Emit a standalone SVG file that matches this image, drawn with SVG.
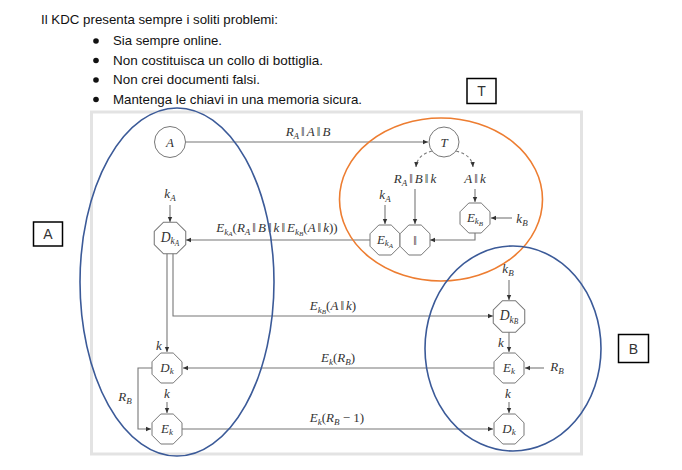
<svg xmlns="http://www.w3.org/2000/svg" width="682" height="470" viewBox="0 0 682 470">
<style>
.hd{font-family:"Liberation Sans",Arial,sans-serif;font-size:13px;fill:#111}
.m{font-family:"Liberation Serif","Times New Roman",serif;font-style:italic;font-size:13px;fill:#333}
.u{font-style:normal}
.p{font-style:normal}
.nd{fill:#fff;stroke:#777;stroke-width:1}
.cn{fill:none;stroke:#777;stroke-width:1.1}
.ds{stroke-dasharray:3 2.5}
.box{fill:#fff;stroke:#000;stroke-width:1.5}
.bl{font-family:"Liberation Sans",Arial,sans-serif;font-size:14px;fill:#333;text-anchor:middle}
.el{fill:none;stroke-width:1.6}
</style>
<defs>
<marker id="ar" markerWidth="6" markerHeight="6" refX="5" refY="3" orient="auto" markerUnits="userSpaceOnUse">
<path d="M0,0.8 L5,3 L0,5.2 Z" fill="#333"/>
</marker>
<polygon id="oct" points="-6.2,-15 6.2,-15 15,-6.2 15,6.2 6.2,15 -6.2,15 -15,6.2 -15,-6.2"/>
</defs>
<rect width="682" height="470" fill="#fff"/>

<g id="header">
<text class="hd" x="41" y="24" textLength="237" lengthAdjust="spacingAndGlyphs">Il KDC presenta sempre i soliti problemi:</text>
<circle cx="96" cy="41" r="2.8" fill="#111"/>
<text class="hd" x="113" y="45" textLength="109" lengthAdjust="spacingAndGlyphs">Sia sempre online.</text>
<circle cx="96" cy="60.5" r="2.8" fill="#111"/>
<text class="hd" x="113" y="64.5" textLength="210" lengthAdjust="spacingAndGlyphs">Non costituisca un collo di bottiglia.</text>
<circle cx="96" cy="80" r="2.8" fill="#111"/>
<text class="hd" x="113" y="84" textLength="147" lengthAdjust="spacingAndGlyphs">Non crei documenti falsi.</text>
<circle cx="96" cy="99.5" r="2.8" fill="#111"/>
<text class="hd" x="113" y="103.5" textLength="249" lengthAdjust="spacingAndGlyphs">Mantenga le chiavi in una memoria sicura.</text>
</g>

<rect x="91.5" y="112" width="490" height="342" fill="#fff" stroke="#e3e3e3" stroke-width="3"/>

<g id="boxT"><rect class="box" x="467" y="78.5" width="29" height="25"/><text class="bl" x="481.5" y="96">T</text></g>
<g id="boxA"><rect class="box" x="33.5" y="222" width="29" height="24"/><text class="bl" x="48" y="239">A</text></g>
<g id="boxB"><rect class="box" x="618.5" y="334.5" width="30" height="28"/><text class="bl" x="633.5" y="353.5">B</text></g>

<g id="connectors">
<path class="cn" d="M186,142 H428" marker-end="url(#ar)"/>
<path class="cn ds" d="M432,151 Q417,155 416,167" marker-end="url(#ar)"/>
<path class="cn ds" d="M456,151 Q472,155 473,167" marker-end="url(#ar)"/>
<path class="cn" d="M415,189 V224" marker-end="url(#ar)"/>
<path class="cn" d="M385,205 V224" marker-end="url(#ar)"/>
<path class="cn" d="M475,189 V202" marker-end="url(#ar)"/>
<path class="cn" d="M512,218 H491" marker-end="url(#ar)"/>
<path class="cn" d="M475,233 V240 H430" marker-end="url(#ar)"/>
<path class="cn" d="M370,240 H186" marker-end="url(#ar)"/>
<path class="cn" d="M170,205 V222" marker-end="url(#ar)"/>
<path class="cn" d="M167,253 V352" marker-end="url(#ar)"/>
<path class="cn" d="M173,253 V316 H493" marker-end="url(#ar)"/>
<path class="cn" d="M494,368 H183" marker-end="url(#ar)"/>
<path class="cn" d="M152,368 H138 V429 H151" marker-end="url(#ar)"/>
<path class="cn" d="M167,402 V413" marker-end="url(#ar)"/>
<path class="cn" d="M182,429 H493" marker-end="url(#ar)"/>
<path class="cn" d="M509,280 V300" marker-end="url(#ar)"/>
<path class="cn" d="M509,332 V352" marker-end="url(#ar)"/>
<path class="cn" d="M544,368 H525" marker-end="url(#ar)"/>
<path class="cn" d="M509,402 V413" marker-end="url(#ar)"/>
</g>

<g id="edge-labels">
<text class="m" x="308" y="136" text-anchor="middle">R<tspan font-size="9" dy="2.5">A</tspan><tspan class="p" dy="-2.5" dx="2">‖</tspan><tspan dx="2">A</tspan><tspan class="p" dx="2">‖</tspan><tspan dx="2">B</tspan></text>
<text class="m" x="415" y="183" text-anchor="middle">R<tspan font-size="9" dy="2.5">A</tspan><tspan class="p" dy="-2.5" dx="2">‖</tspan><tspan dx="2">B</tspan><tspan class="p" dx="2">‖</tspan><tspan dx="2">k</tspan></text>
<text class="m" x="475" y="183" text-anchor="middle">A<tspan class="p" dx="2">‖</tspan><tspan dx="2">k</tspan></text>
<text class="m" x="385" y="199" text-anchor="middle">k<tspan font-size="9" dy="2.5">A</tspan></text>
<text class="m" x="522" y="223" text-anchor="middle">k<tspan font-size="9" dy="2.5">B</tspan></text>
<text class="m" x="277" y="232" text-anchor="middle">E<tspan font-size="9" dy="2.5">k</tspan><tspan font-size="7" dy="1.5">A</tspan><tspan class="u" dy="-4">(</tspan>R<tspan font-size="9" dy="2.5">A</tspan><tspan class="p" dy="-2.5" dx="2">‖</tspan><tspan dx="2">B</tspan><tspan class="p" dx="2">‖</tspan><tspan dx="2">k</tspan><tspan class="p" dx="2">‖</tspan><tspan dx="2">E</tspan><tspan font-size="9" dy="2.5">k</tspan><tspan font-size="7" dy="1.5">B</tspan><tspan class="u" dy="-4">(</tspan>A<tspan class="p" dx="2">‖</tspan><tspan dx="2">k</tspan><tspan class="u">))</tspan></text>
<text class="m" x="170" y="198" text-anchor="middle">k<tspan font-size="9" dy="2.5">A</tspan></text>
<text class="m" x="333" y="310" text-anchor="middle">E<tspan font-size="9" dy="2.5">k</tspan><tspan font-size="7" dy="1.5">B</tspan><tspan class="u" dy="-4">(</tspan>A<tspan class="p" dx="2">‖</tspan><tspan dx="2">k</tspan><tspan class="u">)</tspan></text>
<text class="m" x="159" y="350" text-anchor="middle">k</text>
<text class="m" x="338" y="362" text-anchor="middle">E<tspan font-size="9" dy="2.5">k</tspan><tspan class="u" dy="-2.5">(</tspan>R<tspan font-size="9" dy="2.5">B</tspan><tspan class="u" dy="-2.5">)</tspan></text>
<text class="m" x="125" y="401" text-anchor="middle">R<tspan font-size="9" dy="2.5">B</tspan></text>
<text class="m" x="167" y="398" text-anchor="middle">k</text>
<text class="m" x="337" y="422" text-anchor="middle">E<tspan font-size="9" dy="2.5">k</tspan><tspan class="u" dy="-2.5">(</tspan>R<tspan font-size="9" dy="2.5">B</tspan><tspan class="u" dy="-2.5"> − 1)</tspan></text>
<text class="m" x="508" y="273" text-anchor="middle">k<tspan font-size="9" dy="2.5">B</tspan></text>
<text class="m" x="501" y="347" text-anchor="middle">k</text>
<text class="m" x="557" y="371" text-anchor="middle">R<tspan font-size="9" dy="2.5">B</tspan></text>
<text class="m" x="508" y="398" text-anchor="middle">k</text>
</g>

<g id="node-A"><circle class="nd" cx="170" cy="142" r="15.5"/><text class="m" x="170" y="146.5" text-anchor="middle">A</text></g>
<g id="node-T"><circle class="nd" cx="444" cy="142" r="15"/><text class="m" x="444" y="146.5" text-anchor="middle">T</text></g>
<g id="node-EkA" transform="translate(385,240)"><use href="#oct" class="nd"/><text class="m" x="0" y="3.5" text-anchor="middle">E<tspan font-size="9" dy="2.5">k</tspan><tspan font-size="7" dy="1.5">A</tspan></text></g>
<g id="node-concat" transform="translate(415,240)"><use href="#oct" class="nd"/><text class="m u" x="0" y="4.5" text-anchor="middle">‖</text></g>
<g id="node-EkB" transform="translate(475,218)"><use href="#oct" class="nd"/><text class="m" x="0" y="3.5" text-anchor="middle">E<tspan font-size="9" dy="2.5">k</tspan><tspan font-size="7" dy="1.5">B</tspan></text></g>
<g id="node-DkA" transform="translate(170,238) scale(1.05)"><use href="#oct" class="nd"/><text class="m" x="0" y="3.5" text-anchor="middle">D<tspan font-size="9" dy="2.5">k</tspan><tspan font-size="7" dy="1.5">A</tspan></text></g>
<g id="node-DkB" transform="translate(509,316.5) scale(1.05)"><use href="#oct" class="nd"/><text class="m" x="0" y="3.5" text-anchor="middle">D<tspan font-size="9" dy="2.5">k</tspan><tspan font-size="7" dy="1.5">B</tspan></text></g>
<g id="node-Dk-left" transform="translate(167,368)"><use href="#oct" class="nd"/><text class="m" x="0" y="3.5" text-anchor="middle">D<tspan font-size="9" dy="2.5">k</tspan></text></g>
<g id="node-Ek-left" transform="translate(167,429)"><use href="#oct" class="nd"/><text class="m" x="0" y="3.5" text-anchor="middle">E<tspan font-size="9" dy="2.5">k</tspan></text></g>
<g id="node-Ek-right" transform="translate(509,368)"><use href="#oct" class="nd"/><text class="m" x="0" y="3.5" text-anchor="middle">E<tspan font-size="9" dy="2.5">k</tspan></text></g>
<g id="node-Dk-right" transform="translate(509,429)"><use href="#oct" class="nd"/><text class="m" x="0" y="3.5" text-anchor="middle">D<tspan font-size="9" dy="2.5">k</tspan></text></g>

<g id="groups">
<ellipse class="el" cx="177" cy="282" rx="97" ry="174" stroke="#3b5a98"/>
<ellipse class="el" cx="441" cy="199.5" rx="101.5" ry="81.5" stroke="#ed7d31"/>
<ellipse class="el" cx="513" cy="348.5" rx="88" ry="102.5" stroke="#3b5a98"/>
</g>
</svg>
